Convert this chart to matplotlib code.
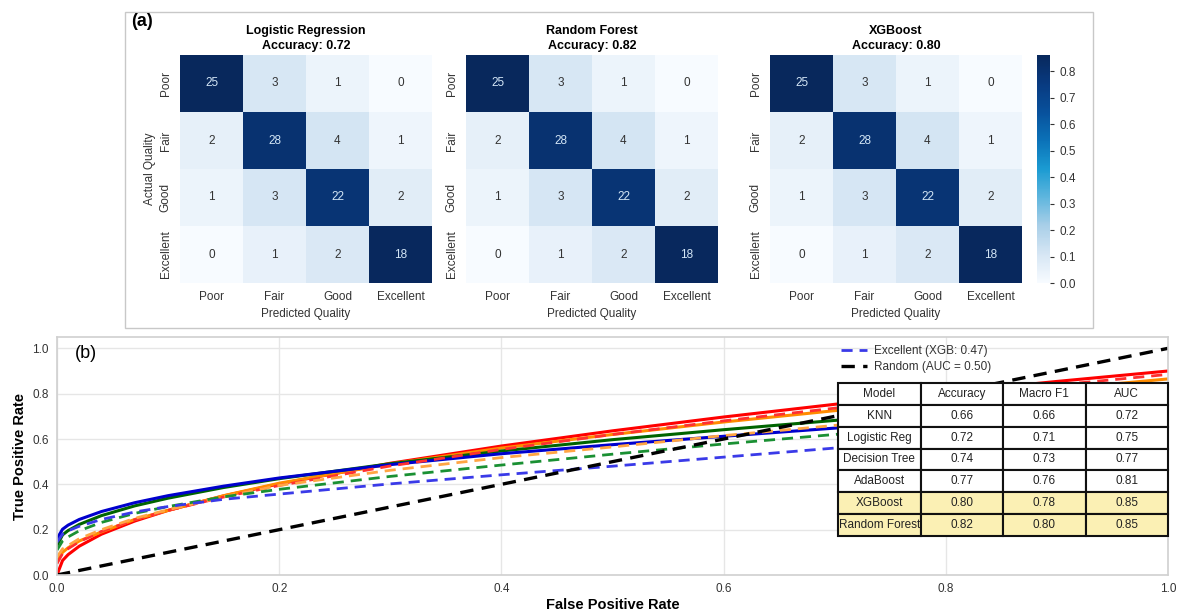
import numpy as np
import matplotlib
matplotlib.use('Agg')
from matplotlib import pyplot as plt
from matplotlib.colors import LinearSegmentedColormap
from matplotlib.lines import Line2D
from matplotlib.patches import Rectangle

plt.rcParams['font.family'] = ['Liberation Sans', 'DejaVu Sans']

# ---- panel (a): confusion matrices ----
classes = ['Poor', 'Fair', 'Good', 'Excellent']
model_titles = ['Logistic Regression', 'Random Forest', 'XGBoost']
model_acc = [0.72, 0.82, 0.80]
cm_lr = [[25, 3, 1, 0], [2, 28, 4, 1], [1, 3, 22, 2], [0, 1, 2, 18]]
cm_rf = [[25, 3, 1, 0], [2, 28, 4, 1], [1, 3, 22, 2], [0, 1, 2, 18]]
cm_xgb = [[25, 3, 1, 0], [2, 28, 4, 1], [1, 3, 22, 2], [0, 1, 2, 18]]
cbar_ticks = [0.0, 0.1, 0.2, 0.3, 0.4, 0.5, 0.6, 0.7, 0.8]

# ---- panel (b): ROC curves ----
fpr = [0, 0.005, 0.01, 0.02, 0.04, 0.07, 0.1, 0.15, 0.2, 0.3, 0.4, 0.5, 0.6, 0.7, 0.8, 0.9, 1.0]
tpr_red = [0.0, 0.064, 0.09, 0.127, 0.18, 0.238, 0.285, 0.349, 0.402, 0.493, 0.569, 0.636, 0.697, 0.753, 0.805, 0.854, 0.90]
tpr_orange = [0.06, 0.10, 0.12, 0.15, 0.19, 0.245, 0.285, 0.35, 0.405, 0.49, 0.56, 0.62, 0.675, 0.725, 0.775, 0.82, 0.865]
tpr_green = [0.13, 0.177, 0.196, 0.223, 0.262, 0.305, 0.339, 0.386, 0.425, 0.491, 0.547, 0.597, 0.641, 0.682, 0.72, 0.756, 0.79]
tpr_blue = [0.16, 0.202, 0.22, 0.245, 0.28, 0.319, 0.35, 0.392, 0.428, 0.487, 0.535, 0.575, 0.612, 0.648, 0.682, 0.714, 0.745]
tpr_red_d = [0.05, 0.095, 0.116, 0.147, 0.192, 0.244, 0.285, 0.344, 0.395, 0.481, 0.554, 0.620, 0.680, 0.736, 0.788, 0.838, 0.885]
tpr_orange_d = [0.08, 0.115, 0.13, 0.16, 0.20, 0.25, 0.288, 0.345, 0.395, 0.462, 0.518, 0.565, 0.615, 0.66, 0.70, 0.74, 0.78]
tpr_green_d = [0.11, 0.15, 0.168, 0.195, 0.232, 0.272, 0.302, 0.345, 0.378, 0.435, 0.485, 0.533, 0.578, 0.62, 0.66, 0.70, 0.735]
tpr_blue_d = [0.145, 0.18, 0.195, 0.215, 0.245, 0.278, 0.302, 0.334, 0.357, 0.402, 0.442, 0.48, 0.52, 0.56, 0.60, 0.64, 0.68]
random_line = [0.0, 1.0]

table_cols = ['Model', 'Accuracy', 'Macro F1', 'AUC']
table_models = ['KNN', 'Logistic Reg', 'Decision Tree', 'AdaBoost', 'XGBoost', 'Random Forest']
table_acc = ['0.66', '0.72', '0.74', '0.77', '0.80', '0.82']
table_f1 = ['0.66', '0.71', '0.73', '0.76', '0.78', '0.80']
table_auc = ['0.72', '0.75', '0.77', '0.81', '0.85', '0.85']

W, H = 1179, 615


def px_axes(fig, x0, y0, x1, y1):
    return fig.add_axes([x0 / W, 1 - y1 / H, (x1 - x0) / W, (y1 - y0) / H])


def plot_confusion(fig, ax, counts, title, acc, cmap, vmax, show_ylabel):
    counts = np.array(counts)
    norm_cm = counts / counts.sum(axis=1, keepdims=True)
    im = ax.imshow(norm_cm, cmap=cmap, vmin=0, vmax=vmax, aspect='auto')
    for i in range(4):
        for j in range(4):
            txt_color = '#d3e6f6' if norm_cm[i, j] > 0.5 else '#333333'
            ax.text(j, i, str(counts[i, j]), ha='center', va='center',
                    fontsize=8.5, color=txt_color)
    ax.set_xticks(range(4))
    ax.set_yticks(range(4))
    ax.set_xticklabels(classes, fontsize=8.5, color='#333333')
    ax.set_yticklabels(classes, fontsize=8.5, color='#333333', rotation=90, va='center')
    ax.tick_params(length=0, pad=6)
    for s in ax.spines.values():
        s.set_visible(False)
    ax.set_title(f'{title}\nAccuracy: {acc:.2f}', fontsize=9, fontweight='bold',
                 linespacing=1.4, pad=4)
    ax.set_xlabel('Predicted Quality', fontsize=8.5, color='#333333', labelpad=3)
    if show_ylabel:
        ax.set_ylabel('Actual Quality', fontsize=8.5, color='#333333', labelpad=3)
    return im


def main():
    fig = plt.figure(figsize=(W / 100, H / 100), dpi=100)

    # frame around panel (a)
    fig.patches.append(Rectangle((125 / W, 1 - 328 / H), (1093 - 125) / W, (328 - 12) / H,
                                 transform=fig.transFigure, fill=False,
                                 edgecolor='#c8c8c8', linewidth=1))

    cmap = LinearSegmentedColormap.from_list('cm_blues', [
        '#f7fbff', '#d6e6f4', '#a9cfe8', '#5fb6de', '#1b9bd2',
        '#0b72b8', '#08519c', '#083a80', '#08285c'])
    all_cms = [cm_lr, cm_rf, cm_xgb]
    vmax = max((np.array(c) / np.array(c).sum(axis=1, keepdims=True)).max() for c in all_cms)

    hm_x = [(180, 432), (466, 718), (770, 1022)]
    im = None
    for k in range(3):
        ax = px_axes(fig, hm_x[k][0], 55, hm_x[k][1], 283)
        im = plot_confusion(fig, ax, all_cms[k], model_titles[k], model_acc[k],
                            cmap, vmax, k == 0)

    cax = px_axes(fig, 1037, 55, 1050, 283)
    cb = fig.colorbar(im, cax=cax, ticks=cbar_ticks)
    cb.outline.set_visible(False)
    cb.ax.tick_params(labelsize=8.5, length=3, width=0.8, colors='#333333')
    cb.ax.set_yticklabels([f'{t:.1f}' for t in cbar_ticks])

    fig.text(131 / W, 1 - 22 / H, '(a)', fontsize=13, fontweight='bold', va='center')

    # ---- panel (b) ----
    ax = px_axes(fig, 57, 337, 1168, 575)
    ax.set_facecolor('white')
    ax.grid(True, color='#e6e6e6', linewidth=1)
    ax.set_axisbelow(True)
    for s in ax.spines.values():
        s.set_color('#d0d0d0')
        s.set_linewidth(1.2)

    ax.plot(fpr, tpr_red, color='#ff0000', lw=2.2)
    ax.plot(fpr, tpr_orange, color='#ff8c00', lw=2.2)
    ax.plot(fpr, tpr_green, color='#006400', lw=2.2)
    ax.plot(fpr, tpr_blue, color='#0000cd', lw=2.2)
    ax.plot(fpr, tpr_red_d, color='#ff3030', lw=2, ls=(0, (4, 2.5)))
    ax.plot(fpr, tpr_orange_d, color='#ffa544', lw=2, ls=(0, (4, 2.5)))
    ax.plot(fpr, tpr_green_d, color='#1a9033', lw=2, ls=(0, (4, 2.5)))
    ax.plot(fpr, tpr_blue_d, color='#3a3ae8', lw=2, ls=(0, (4, 2.5)))
    ax.plot(random_line, random_line, color='black', lw=2.4, ls=(0, (4, 2.5)))

    ax.set_xlim(0, 1)
    ax.set_ylim(0, 1.05)
    ax.set_xticks([0.0, 0.2, 0.4, 0.6, 0.8, 1.0])
    ax.set_yticks([0.0, 0.2, 0.4, 0.6, 0.8, 1.0])
    ax.tick_params(length=0, labelsize=8.5, colors='#333333', pad=6)
    ax.set_xlabel('False Positive Rate', fontsize=10.5, fontweight='bold', labelpad=2)
    ax.set_ylabel('True Positive Rate', fontsize=10.5, fontweight='bold', labelpad=4)
    ax.text(0.016, 0.93, '(b)', transform=ax.transAxes, fontsize=13, va='center')

    ax.legend([Line2D([0], [0], color='#3a3ae8', lw=2, ls=(0, (4, 2.5))),
               Line2D([0], [0], color='black', lw=2.4, ls=(0, (4, 2.5)))],
              ['Excellent (XGB: 0.47)', 'Random (AUC = 0.50)'],
              loc='upper left', bbox_to_anchor=(0.696, 1.01), frameon=False,
              fontsize=8.5, handlelength=2.2, handletextpad=0.6, labelspacing=0.35,
              labelcolor='#333333')

    cell_text = [[table_models[i], table_acc[i], table_f1[i], table_auc[i]]
                 for i in range(len(table_models))]
    tbl = ax.table(cellText=cell_text, colLabels=table_cols, cellLoc='center',
                   bbox=[0.703, 0.164, 0.297, 0.643])
    tbl.auto_set_font_size(False)
    tbl.set_fontsize(8.5)
    tbl.set_zorder(5)
    for (r, c), cell in tbl.get_celld().items():
        cell.set_linewidth(1.5)
        cell.set_edgecolor('#111111')
        cell.get_text().set_color('#222222')
        cell.PAD = 0.02
        if r >= 5:
            cell.set_facecolor('#fbf0b4')
        else:
            cell.set_facecolor('white')

    fig.savefig('out.png', dpi=100)


if __name__ == '__main__':
    main()
